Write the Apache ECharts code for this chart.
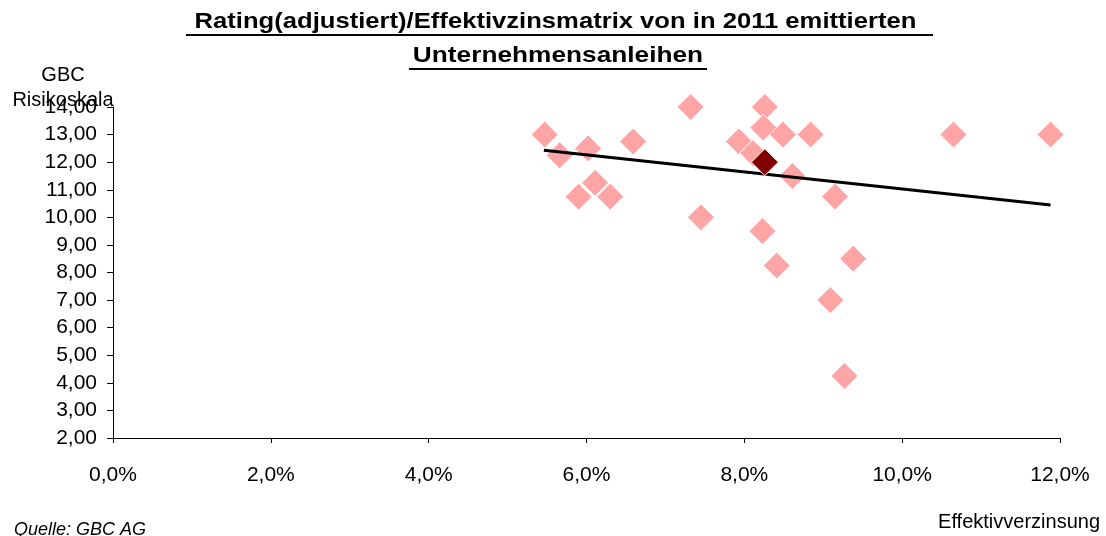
<!DOCTYPE html>
<html>
<head>
<meta charset="utf-8">
<script src="https://cdn.jsdelivr.net/npm/echarts@6/dist/echarts.min.js"></script>
<style>
html,body{margin:0;padding:0;background:#fff;}
#c{width:1106px;height:536px;}
</style>
</head>
<body>
<div id="c"></div>
<script>
// Effektivverzinsung (%) and GBC risk scale of bonds issued in 2011
const yieldPct = [5.47, 5.66, 6.02, 5.90, 6.11, 6.30, 6.59, 7.32, 7.45, 7.93, 8.11, 8.26, 8.24, 8.49, 8.84, 8.61, 9.15, 8.23, 8.41, 9.38, 9.09, 9.27, 10.65, 11.88];
const riskScale = [13.00, 12.25, 12.50, 10.75, 11.25, 10.75, 12.75, 14.00, 10.00, 12.75, 12.33, 14.00, 13.25, 13.00, 13.00, 11.50, 10.75, 9.50, 8.25, 8.50, 7.00, 4.25, 13.00, 13.00];
// highlighted bond
const highlightYield = [8.26];
const highlightRisk = [12.00];
// linear trend line end points
const trendYield = [5.46, 11.88];
const trendRisk = [12.43, 10.45];
// axis ticks
const xTicks = [0, 2, 4, 6, 8, 10, 12];
const yTicks = [2, 3, 4, 5, 6, 7, 8, 9, 10, 11, 12, 13, 14];
// texts
const titleLines = ['Rating(adjustiert)/Effektivzinsmatrix von in 2011 emittierten ', 'Unternehmensanleihen'];
const yName = 'GBC\nRisikoskala';
const xName = 'Effektivverzinsung';
const source = 'Quelle: GBC AG';

const FONT = '"Liberation Sans", Arial, sans-serif';
const chart = echarts.init(document.getElementById('c'), null, {renderer: 'canvas'});

const pts = yieldPct.map((x, i) => [x, riskScale[i]]);
const hl = highlightYield.map((x, i) => [x, highlightRisk[i]]);
const trend = trendYield.map((x, i) => [x, trendRisk[i]]);

chart.setOption({
  backgroundColor: '#ffffff',
  animation: false,
  grid: {left: 113, right: 46, top: 107, bottom: 98, containLabel: false},
  xAxis: {
    type: 'value', min: xTicks[0], max: xTicks[xTicks.length - 1], interval: 2,
    splitLine: {show: false},
    axisLine: {lineStyle: {color: '#000', width: 1}},
    axisTick: {show: true, length: 5, lineStyle: {color: '#000'}},
    axisLabel: {fontFamily: FONT, fontSize: 21, color: '#000', margin: 27,
      formatter: v => v.toFixed(1).replace('.', ',') + '%'}
  },
  yAxis: {
    type: 'value', min: yTicks[0], max: yTicks[yTicks.length - 1], interval: 1,
    splitLine: {show: false},
    axisLine: {show: true, lineStyle: {color: '#000', width: 1}},
    axisTick: {show: true, length: 6, lineStyle: {color: '#000'}},
    axisLabel: {fontFamily: FONT, fontSize: 21, color: '#000', margin: 16,
      formatter: v => v.toFixed(2).replace('.', ',')}
  },
  series: [
    {
      type: 'scatter', data: pts, symbol: 'diamond', symbolSize: [27, 27],
      itemStyle: {color: '#FFA5A5', borderColor: '#ffffff', borderWidth: 1, opacity: 1},
      z: 2
    },
    {
      type: 'line', data: trend, symbol: 'none',
      lineStyle: {color: '#000', width: 3},
      z: 3
    },
    {
      type: 'scatter', data: hl, symbol: 'diamond', symbolSize: [27, 27],
      itemStyle: {color: '#800000', borderColor: '#ffffff', borderWidth: 1, opacity: 1},
      z: 4
    }
  ],
  graphic: [
    {type: 'text', x: 559, y: 22, scaleX: 1.22, scaleY: 1.05,
      style: {text: titleLines[0], fontFamily: FONT, fontSize: 21, fontWeight: 'bold', fill: '#000', align: 'center', verticalAlign: 'middle'}},
    {type: 'text', x: 558, y: 56, scaleX: 1.25, scaleY: 1.05,
      style: {text: titleLines[1], fontFamily: FONT, fontSize: 21, fontWeight: 'bold', fill: '#000', align: 'center', verticalAlign: 'middle'}},
    {type: 'line', shape: {x1: 186, y1: 35, x2: 933, y2: 35}, style: {stroke: '#000', lineWidth: 2}},
    {type: 'line', shape: {x1: 409, y1: 69, x2: 707, y2: 69}, style: {stroke: '#000', lineWidth: 2}},
    {type: 'text', x: 63, y: 88,
      style: {text: yName, fontFamily: FONT, fontSize: 20, fill: '#000', align: 'center', verticalAlign: 'middle', lineHeight: 25}},
    {type: 'text', x: 14, y: 521,
      style: {text: source, fontFamily: FONT, fontSize: 18, fontStyle: 'italic', fill: '#000', align: 'left', verticalAlign: 'top'}},
    {type: 'text', x: 1100, y: 522,
      style: {text: xName, fontFamily: FONT, fontSize: 20, fill: '#000', align: 'right', verticalAlign: 'middle'}}
  ]
});
</script>
</body>
</html>
